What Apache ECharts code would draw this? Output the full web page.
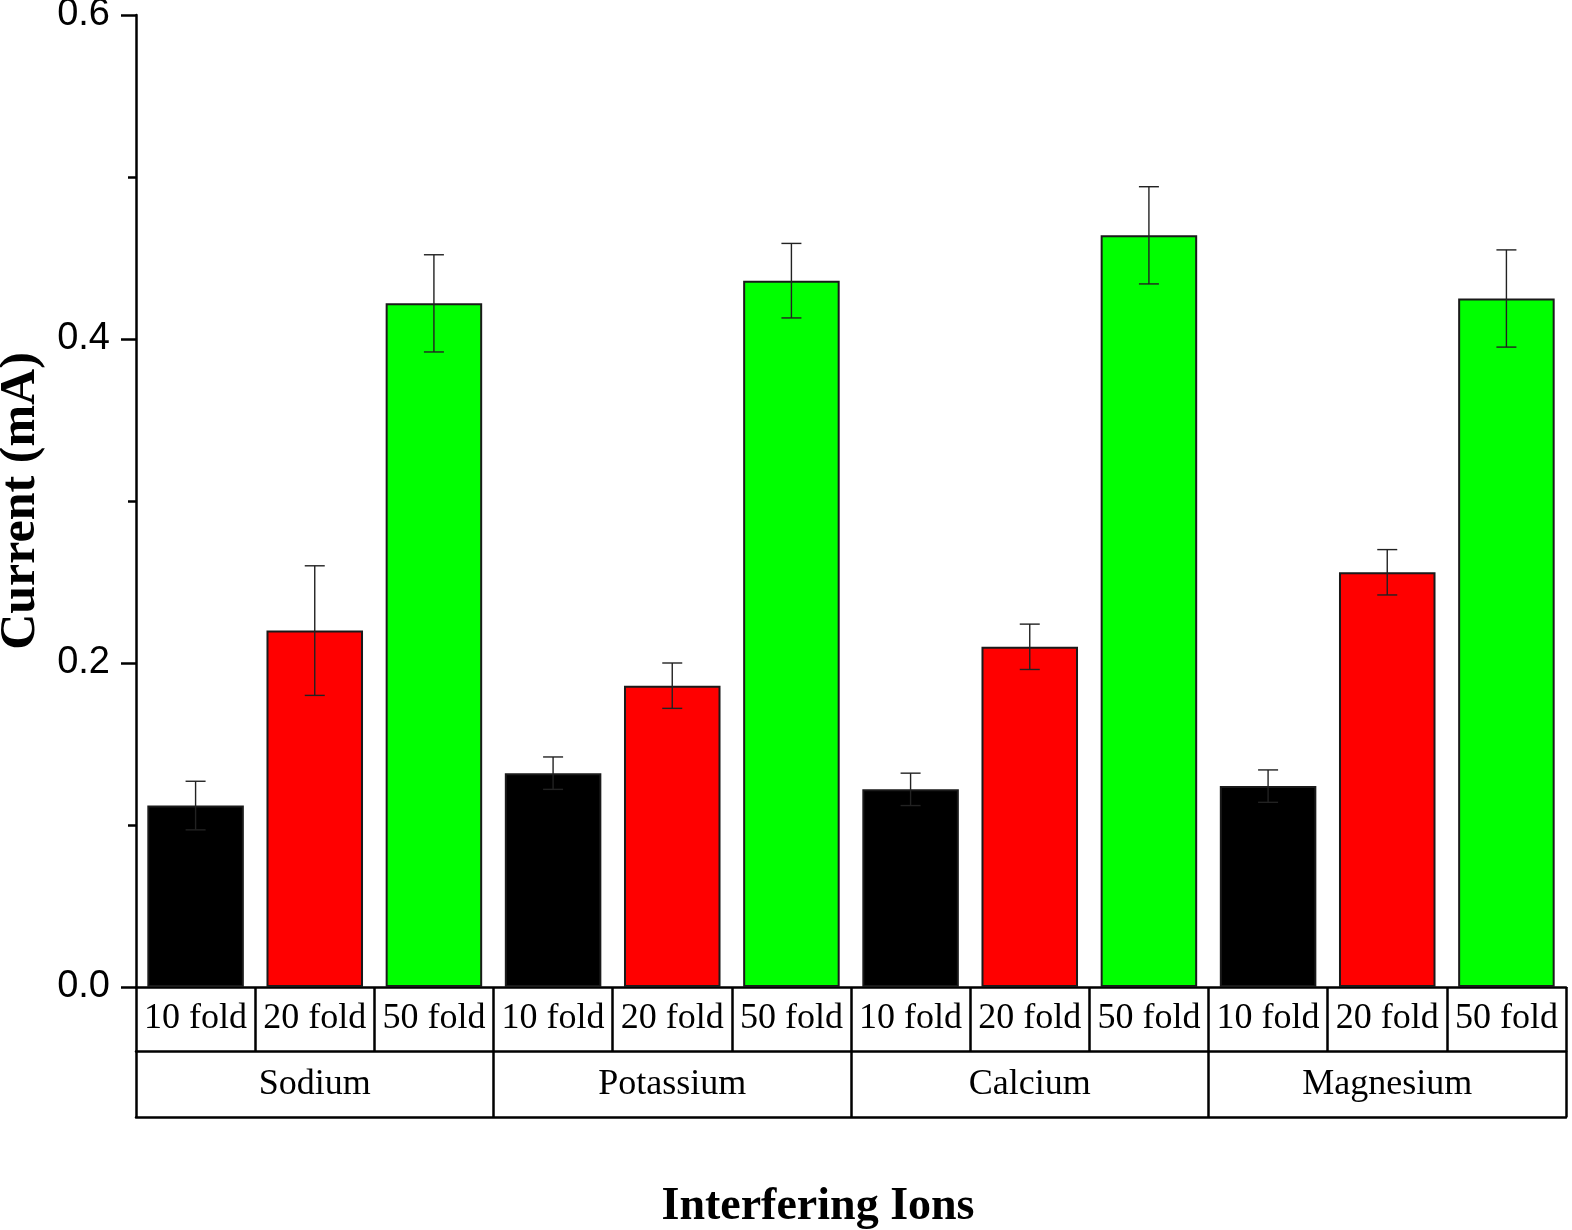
<!DOCTYPE html>
<html>
<head>
<meta charset="utf-8">
<script src="https://cdn.jsdelivr.net/npm/echarts@6/dist/echarts.min.js"></script>
<style>
  html, body { margin: 0; padding: 0; background: #fff; }
  #chart { width: 1572px; height: 1230px; }
</style>
</head>
<body>
<div id="chart"></div>
<script>
// 数据
const ions = ['Sodium', 'Potassium', 'Calcium', 'Magnesium'];
const folds = ['10 fold', '20 fold', '50 fold'];
const currents = [
  0.112, 0.220, 0.422,
  0.132, 0.186, 0.436,
  0.122, 0.210, 0.464,
  0.124, 0.256, 0.425
];
const errors = [
  0.015, 0.040, 0.030,
  0.010, 0.014, 0.023,
  0.010, 0.014, 0.030,
  0.010, 0.014, 0.030
];
const foldColors = ['#000000', '#ff0000', '#00ff00'];

const cells = [];
ions.forEach(() => folds.forEach(f => cells.push(f)));

const chart = echarts.init(document.getElementById('chart'));

const serif = '"Liberation Serif", "DejaVu Serif", serif';
const sans = '"Liberation Sans", Arial, sans-serif';

const option = {
  animation: false,
  grid: { left: 136, right: 6, top: 15, bottom: 243, containLabel: false, outerBoundsMode: 'none' },
  xAxis: [
    {
      type: 'category',
      data: cells,
      position: 'bottom',
      axisLine: { show: true, lineStyle: { color: '#000', width: 2.5 } },
      axisTick: { show: true, inside: false, length: 64, alignWithLabel: false, lineStyle: { color: '#000', width: 2.5 } },
      axisLabel: { show: true, interval: 0, margin: 14, fontFamily: serif, fontSize: 36, color: '#000' },
      name: 'Interfering Ions',
      nameLocation: 'middle',
      nameGap: 197,
      nameTextStyle: { fontFamily: serif, fontWeight: 'bold', fontSize: 46, color: '#000', padding: [0, 66, 0, 0] }
    },
    {
      type: 'category',
      data: ions,
      position: 'bottom',
      offset: 64,
      axisLine: { show: true, lineStyle: { color: '#000', width: 2.5 } },
      axisTick: { show: true, length: 66, lineStyle: { color: '#000', width: 2.5 } },
      axisLabel: { show: true, interval: 0, margin: 16, fontFamily: serif, fontSize: 36, color: '#000' }
    },
    {
      type: 'category',
      data: ions,
      position: 'bottom',
      offset: 130,
      axisLine: { show: true, lineStyle: { color: '#000', width: 2.5 } },
      axisTick: { show: false },
      axisLabel: { show: false }
    }
  ],
  yAxis: {
    type: 'value',
    min: 0,
    max: 0.6,
    interval: 0.2,
    name: 'Current (mA)',
    nameLocation: 'middle',
    nameRotate: 90,
    nameGap: 87,
    nameTextStyle: { fontFamily: serif, fontWeight: 'bold', fontSize: 50, color: '#000' },
    axisLine: { show: true, lineStyle: { color: '#000', width: 2.5 } },
    axisTick: { show: true, length: 15, lineStyle: { color: '#000', width: 2.5 } },
    minorTick: { show: true, splitNumber: 2, length: 8, lineStyle: { color: '#000', width: 2.5 } },
    splitLine: { show: false },
    axisLabel: {
      margin: 26,
      fontFamily: sans,
      fontSize: 38,
      color: '#000',
      formatter: v => v.toFixed(1)
    }
  },
  series: [
    {
      type: 'bar',
      xAxisIndex: 0,
      barWidth: '81%',
      data: currents.map((v, i) => ({
        value: v,
        itemStyle: { color: foldColors[i % 3], borderColor: '#1a1a1a', borderWidth: 2 }
      }))
    },
    {
      type: 'custom',
      xAxisIndex: 0,
      z: 5,
      data: currents.map((v, i) => [i, v, errors[i]]),
      renderItem: (params, api) => {
        const x = api.value(0);
        const v = api.value(1);
        const e = api.value(2);
        const hi = api.coord([x, v + e]);
        const lo = api.coord([x, v - e]);
        const cap = 10;
        const style = { stroke: '#222', lineWidth: 1.4 };
        return {
          type: 'group',
          children: [
            { type: 'line', shape: { x1: hi[0], y1: hi[1], x2: lo[0], y2: lo[1] }, style },
            { type: 'line', shape: { x1: hi[0] - cap, y1: hi[1], x2: hi[0] + cap, y2: hi[1] }, style },
            { type: 'line', shape: { x1: lo[0] - cap, y1: lo[1], x2: lo[0] + cap, y2: lo[1] }, style }
          ]
        };
      }
    }
  ]
};

chart.setOption(option);
</script>
</body>
</html>
